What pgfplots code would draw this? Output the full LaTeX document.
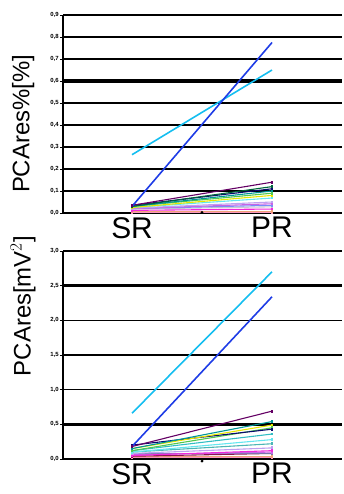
\documentclass[border=0pt]{standalone}
\usepackage{pgfplots}
\pgfplotsset{compat=1.18}
\usepackage{fontspec}
\setmainfont{Liberation Sans}
\definecolor{cBlue}{RGB}{30,60,230}
\definecolor{cCyan}{RGB}{20,190,240}
\definecolor{cPurple}{RGB}{100,0,100}
\definecolor{cDGreen}{RGB}{0,100,60}
\definecolor{cNavy}{RGB}{10,10,110}
\definecolor{cTeal}{RGB}{0,150,150}
\definecolor{cGreen}{RGB}{80,200,80}
\definecolor{cYellow}{RGB}{230,230,0}
\definecolor{cLCyan}{RGB}{100,230,240}
\definecolor{cLav}{RGB}{190,160,240}
\definecolor{cViolet}{RGB}{200,100,230}
\definecolor{cGray}{RGB}{200,200,210}
\definecolor{cMag}{RGB}{240,40,220}
\definecolor{cPink}{RGB}{250,150,190}
\definecolor{cSalmon}{RGB}{240,160,120}
\definecolor{cLBlue}{RGB}{120,140,250}
\definecolor{cSlate}{RGB}{120,120,170}
\definecolor{cDRed}{RGB}{140,20,80}
\pgfplotsset{
  panel/.style={
    scale only axis, width=279bp, clip=false,
    xmin=-0.493, xmax=1.5,
    axis lines=left, axis line style={-, line width=1.1pt},
    x axis line style={draw=none},
    xtick={0,1}, xticklabels={SR,PR},
    major x tick style={draw=none},
    xticklabel style={font=\fontsize{30}{30}\selectfont, inner sep=1pt},
    ymajorgrids, grid style={black, line width=1.1pt},
    tick align=outside, major tick length=3bp,
    major y tick style={black, line width=0.8pt},
    yticklabel style={font=\fontsize{6}{6}\selectfont\bfseries, inner sep=1pt},
    /pgf/number format/.cd, use comma, fixed, fixed zerofill, precision=1, assume math mode=true,
    /pgfplots/.cd,
    every axis plot/.append style={line width=1.1pt, mark=square*, mark size=0.9pt},
  }
}
\begin{document}
\begin{tikzpicture}
\path[use as bounding box] (0,0) rectangle (344bp,494bp);
% top panel
\begin{axis}[panel, at={(63bp,281bp)}, anchor=south west, height=198bp,
  ymin=0, ymax=0.9, ytick={0,0.1,0.2,0.3,0.4,0.5,0.6,0.7,0.8,0.9}]
\draw[black, line width=3.2pt] (axis cs:-0.493,0.6) -- (axis cs:1.5,0.6);
\draw[black, line width=1.1pt] (axis cs:-0.493,0.9) -- (axis cs:1.5,0.9);
\addplot[cPink] coordinates {(0,0.004) (1,0.004)};
\addplot[cSalmon] coordinates {(0,0.008) (1,0.008)};
\addplot[cMag] coordinates {(0,0.012) (1,0.018)};
\addplot[cGray] coordinates {(0,0.018) (1,0.028)};
\addplot[cLBlue] coordinates {(0,0.02) (1,0.035)};
\addplot[cViolet] coordinates {(0,0.02) (1,0.042)};
\addplot[cLav] coordinates {(0,0.022) (1,0.05)};
\addplot[cLCyan] coordinates {(0,0.025) (1,0.068)};
\addplot[cYellow] coordinates {(0,0.025) (1,0.08)};
\addplot[cGreen] coordinates {(0,0.03) (1,0.09)};
\addplot[cTeal] coordinates {(0,0.03) (1,0.10)};
\addplot[cNavy] coordinates {(0,0.035) (1,0.11)};
\addplot[cDGreen] coordinates {(0,0.03) (1,0.12)};
\addplot[cPurple] coordinates {(0,0.035) (1,0.14)};
\addplot[cCyan, line width=1.6pt, mark=none] coordinates {(0,0.265) (1,0.65)};
\addplot[cBlue, line width=1.6pt, mark=none] coordinates {(0,0.03) (1,0.775)};
\addplot[black, only marks, mark=*, mark size=0.8pt] coordinates {(0.5,0.003)};
\node[rotate=90, font=\fontsize{24}{24}\selectfont] at (rel axis cs:-0.143,0.45) {PCAres\%[\%]};
\end{axis}
% bottom panel
\begin{axis}[panel, at={(63bp,35bp)}, anchor=south west, height=208bp,
  ymin=0, ymax=3, ytick={0,0.5,1,1.5,2,2.5,3}]
\draw[black, line width=2.8pt] (axis cs:-0.493,0.5) -- (axis cs:1.5,0.5);
\draw[black, line width=2.8pt] (axis cs:-0.493,2.5) -- (axis cs:1.5,2.5);
\draw[black, line width=1.1pt] (axis cs:-0.493,3) -- (axis cs:1.5,3);
\addplot[cPink] coordinates {(0,0.02) (1,0.02)};
\addplot[cSalmon] coordinates {(0,0.04) (1,0.04)};
\addplot[cDRed] coordinates {(0,0.04) (1,0.08)};
\addplot[cSlate] coordinates {(0,0.08) (1,0.08)};
\addplot[cViolet] coordinates {(0,0.06) (1,0.10)};
\addplot[cMag] coordinates {(0,0.05) (1,0.12)};
\addplot[cLav] coordinates {(0,0.08) (1,0.16)};
\addplot[cTeal!70] coordinates {(0,0.1) (1,0.22)};
\addplot[cLCyan] coordinates {(0,0.1) (1,0.28)};
\addplot[cTeal!50!cLCyan] coordinates {(0,0.12) (1,0.36)};
\addplot[cGreen] coordinates {(0,0.12) (1,0.45)};
\addplot[cNavy] coordinates {(0,0.2) (1,0.43)};
\addplot[cYellow] coordinates {(0,0.15) (1,0.49)};
\addplot[cTeal] coordinates {(0,0.15) (1,0.54)};
\addplot[cPurple] coordinates {(0,0.18) (1,0.69)};
\addplot[cCyan, line width=1.6pt, mark=none] coordinates {(0,0.66) (1,2.70)};
\addplot[cBlue, line width=1.6pt, mark=none] coordinates {(0,0.18) (1,2.34)};
\addplot[black, only marks, mark=*, mark size=0.8pt] coordinates {(0.5,-0.03)};
\node[rotate=90, font=\fontsize{24}{24}\selectfont] at (rel axis cs:-0.143,0.735) {PCAres[mV$^2$]};
\end{axis}
\end{tikzpicture}
\end{document}
